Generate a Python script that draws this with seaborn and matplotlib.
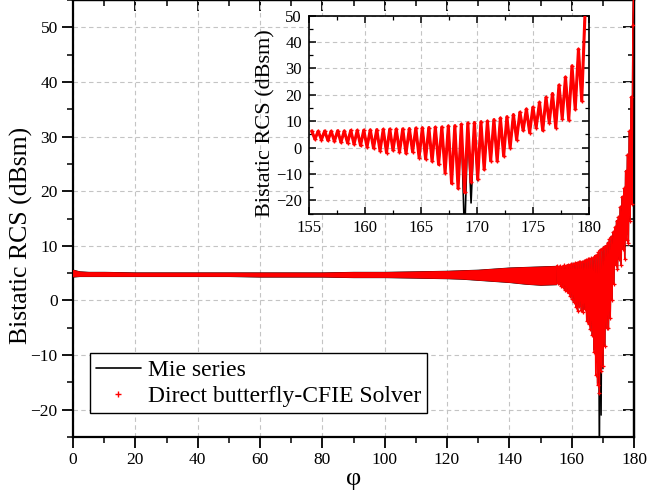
import numpy as np
import pandas as pd
import matplotlib
matplotlib.use("Agg")
import matplotlib.pyplot as plt
import seaborn as sns
from matplotlib.lines import Line2D
from matplotlib.ticker import MultipleLocator

# ---------------- data ----------------
# 0-155 deg: fast ripple is unresolved, given as upper / lower envelope
phi_env = [0, 2, 5, 10, 20, 30, 40, 50, 60, 70, 80, 90, 100, 110, 120, 125,
           130, 135, 140, 145, 150, 155]
env_upper = [5.6, 5.3, 5.2, 5.2, 5.1, 5.1, 5.1, 5.1, 5.1, 5.1, 5.1, 5.2, 5.2,
             5.3, 5.4, 5.5, 5.6, 5.8, 6.0, 6.1, 6.2, 6.3]
env_lower = [4.4, 4.5, 4.5, 4.5, 4.5, 4.5, 4.5, 4.5, 4.4, 4.4, 4.4, 4.3, 4.3,
             4.2, 4.1, 4.0, 3.8, 3.6, 3.4, 3.1, 2.9, 3.0]

# 155-180 deg: lobe maxima and minima
phi_peak = [155.24, 155.82, 156.40, 156.98, 157.56, 158.15, 158.73, 159.31,
            159.89, 160.47, 161.05, 161.63, 162.21, 162.79, 163.37, 163.96,
            164.54, 165.12, 165.70, 166.28, 166.86, 167.44, 168.02, 168.60,
            169.18, 169.77, 170.35, 170.93, 171.51, 172.09, 172.67, 173.25,
            173.83, 174.41, 174.99, 175.58, 176.16, 176.74, 177.32, 177.90,
            178.48, 179.06, 179.64, 180.00]
peak_val = [6.3, 6.2, 6.3, 6.2, 6.4, 6.3, 6.5, 6.5, 6.6, 6.7, 6.8,
            6.9, 7.0, 7.0, 7.1, 7.2, 7.4, 7.5, 7.6, 7.7, 7.8,
            8.2, 8.3, 8.8, 9.3, 9.5, 9.8, 10.0, 10.6, 11.2, 11.7, 12.5,
            13.4, 14.6, 15.3, 17.1, 19.0, 20.5, 23.7, 26.7, 31.0, 37.3, 50.5,
            60.0]
phi_trough = [155.53, 156.11, 156.69, 157.27, 157.85, 158.44, 159.02, 159.60,
              160.18, 160.76, 161.34, 161.92, 162.50, 163.08, 163.66, 164.25,
              164.83, 165.41, 165.99, 166.57, 167.15, 167.73, 168.31, 168.89,
              169.47, 170.06, 170.64, 171.22, 171.80, 172.38, 172.96, 173.54,
              174.12, 174.70, 175.28, 175.87, 176.45, 177.03, 177.61, 178.19,
              178.77, 179.35]
trough_mie = [3.2, 3.0, 2.7, 2.4, 2.0, 1.8, 1.3, 0.8, 0.3, -0.2,
              -1.2, -1.9, -1.0, -1.7, -2.2, -1.6, -3.8, -4.3, -5.2, -6.4,
              -9.0, -11.4, -15.2, -35.0, -21.0, -12.5, -8.3, -5.0, -5.1, -3.2,
              0.0, 3.0, 6.5, 5.7, 7.6, 6.5, 9.5, 7.6, 12.0, 10.5, 14.5, 17.7]
trough_sol = [3.2, 3.0, 2.7, 2.4, 2.0, 1.8, 1.3, 0.8, 0.3, -0.2,
              -1.2, -1.9, -1.0, -1.7, -2.2, -1.6, -3.8, -4.3, -5.2, -6.4,
              -9.5, -13.6, -15.5, -17.0, -13.0, -12.0, -8.3, -5.0, -5.1, -3.2,
              0.0, 3.0, 6.5, 5.7, 7.6, 6.5, 9.5, 7.6, 11.0, 10.5, 14.5, 17.7]

x_ticks = [0, 20, 40, 60, 80, 100, 120, 140, 160, 180]
y_ticks = [-20, -10, 0, 10, 20, 30, 40, 50]
inset_x_ticks = [155, 160, 165, 170, 175, 180]
inset_y_ticks = [-20, -10, 0, 10, 20, 30, 40, 50]

# combine maxima and minima into one ordered curve (no new values)
def lobes(trough):
    phi = np.concatenate([phi_peak, phi_trough])
    val = np.concatenate([peak_val, trough])
    o = np.argsort(phi)
    return pd.DataFrame({"phi": phi[o], "rcs": val[o]})

mie = lobes(trough_mie)
sol = lobes(trough_sol)

# ---------------- styling ----------------
sns.set_theme(style="ticks")
plt.rcParams["font.family"] = ["Liberation Serif", "DejaVu Serif"]
plt.rcParams["axes.edgecolor"] = "black"
plt.rcParams["xtick.color"] = "black"
plt.rcParams["ytick.color"] = "black"
plt.rcParams["text.color"] = "black"
plt.rcParams["axes.labelcolor"] = "black"

GRID = dict(color="#c4c4c4", linestyle=(0, (4, 3)), linewidth=0.8)

fig = plt.figure(figsize=(6.51, 4.97), dpi=100)
ax = fig.add_axes([73 / 651, 60 / 497, 561 / 651, 437 / 497])

ax.fill_between(phi_env, env_lower, env_upper, color="black", lw=1.0, zorder=2)
ax.fill_between(phi_env, env_lower, env_upper, color="red", lw=0.6, zorder=3)
sns.lineplot(data=mie, x="phi", y="rcs", ax=ax, color="black", lw=1.0,
             sort=False, estimator=None, zorder=2)
sns.lineplot(data=sol, x="phi", y="rcs", ax=ax, color="red", lw=1.1,
             marker="+", markersize=3.5, markeredgewidth=0.9, mec="red",
             sort=False, estimator=None, zorder=3)

ax.set_xlim(0, 180)
ax.set_ylim(-25, 55)
ax.set_xticks(x_ticks)
ax.set_yticks(y_ticks)
ax.xaxis.set_minor_locator(MultipleLocator(10))
ax.yaxis.set_minor_locator(MultipleLocator(5))
ax.tick_params(which="major", direction="out", length=8, width=1.3,
               labelsize=12.5, pad=3)
ax.tick_params(which="minor", direction="out", length=4.5, width=1.1)
ax.grid(True, which="major", **GRID)
ax.set_axisbelow(True)
for s in ax.spines.values():
    s.set_linewidth(1.6)

sec_x = ax.secondary_xaxis("top")
sec_x.set_xticks(x_ticks)
sec_x.xaxis.set_minor_locator(MultipleLocator(10))
sec_x.tick_params(which="major", direction="in", length=8, width=1.3, labeltop=False)
sec_x.tick_params(which="minor", direction="in", length=4.5, width=1.1)
sec_y = ax.secondary_yaxis("right")
sec_y.set_yticks(y_ticks)
sec_y.yaxis.set_minor_locator(MultipleLocator(5))
sec_y.tick_params(which="major", direction="in", length=8, width=1.3, labelright=False)
sec_y.tick_params(which="minor", direction="in", length=4.5, width=1.1)
for sa in (sec_x, sec_y):
    for s in sa.spines.values():
        s.set_linewidth(1.6)

ax.set_xlabel("φ", fontsize=19)
ax.xaxis.set_label_coords(0.5, -0.072)
ax.set_ylabel("Bistatic RCS (dBsm)", fontsize=18.5)
ax.yaxis.set_label_coords(-0.0713, 0.462)

handles = [Line2D([], [], color="black", lw=1.2),
           Line2D([], [], color="red", lw=0, marker="+", markersize=4,
                  markeredgewidth=1.0)]
leg = ax.legend(handles, ["Mie series", "Direct butterfly-CFIE Solver"],
                loc="lower left", bbox_to_anchor=(17 / 561, 24 / 437),
                borderaxespad=0, fontsize=17, frameon=True, fancybox=False,
                edgecolor="black", framealpha=1, borderpad=0.25,
                labelspacing=0.2, handlelength=1.9, handletextpad=0.3)
leg.get_frame().set_linewidth(1.0)
leg.set_zorder(10)

# ---------------- inset ----------------
axin = fig.add_axes([309 / 651, (497 - 213.5) / 497, 280 / 651, 197.8 / 497])
axin.set_facecolor("white")
sns.lineplot(data=mie, x="phi", y="rcs", ax=axin, color="black", lw=1.2,
             sort=False, estimator=None, zorder=2)
sns.lineplot(data=sol, x="phi", y="rcs", ax=axin, color="red", lw=2.2,
             marker="+", markersize=3.5, markeredgewidth=1.0, mec="red",
             sort=False, estimator=None, zorder=3)
axin.set_xlim(155, 180)
axin.set_ylim(-25, 50)
axin.set_xticks(inset_x_ticks)
axin.set_yticks(inset_y_ticks)
axin.xaxis.set_minor_locator(MultipleLocator(2.5))
axin.yaxis.set_minor_locator(MultipleLocator(5))
axin.tick_params(which="major", direction="in", length=5, width=1.1,
                 labelsize=12, top=True, right=True, pad=5)
axin.tick_params(which="minor", direction="in", length=3, width=0.9,
                 top=True, right=True)
axin.grid(True, which="major", **GRID)
axin.set_axisbelow(True)
for s in axin.spines.values():
    s.set_linewidth(1.2)
axin.set_xlabel("")
axin.set_ylabel("Bistatic RCS (dBsm)", fontsize=16)
axin.yaxis.set_label_coords(-0.121, 0.456)

fig.savefig("out.png", dpi=100)
